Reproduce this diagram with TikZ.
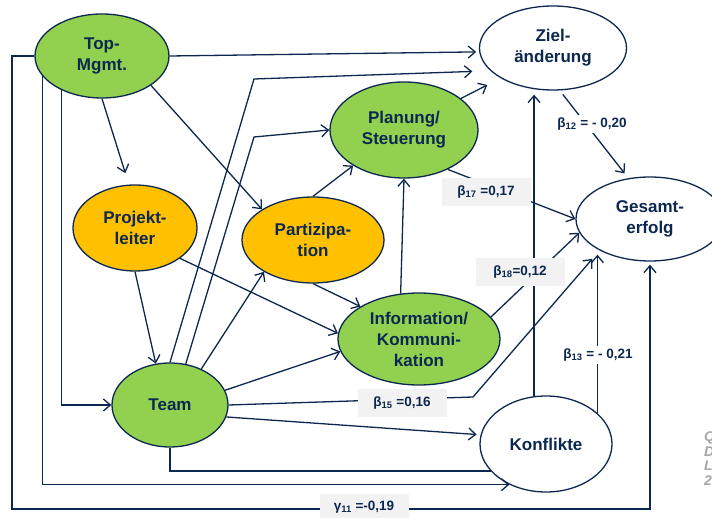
\documentclass[tikz,border=0pt]{standalone}
\usepackage{fontspec}
\setmainfont{Liberation Sans}
\usetikzlibrary{shapes.geometric,arrows.meta,calc}
\definecolor{navy}{HTML}{0D2850}
\definecolor{lgreen}{HTML}{92D050}
\definecolor{amber}{HTML}{FFC000}
\definecolor{boxgray}{HTML}{F2F2F2}
\begin{document}
\begin{tikzpicture}[x=1pt,y=-1pt,
  every node/.style={font=\fontsize{17}{21}\selectfont\bfseries, text=navy},
  ell/.style={ellipse, draw=navy, line width=1.3pt, inner sep=0pt, align=center},
  gnode/.style={ell, fill=lgreen},
  onode/.style={ell, fill=amber},
  wnode/.style={ell, fill=white},
  conn/.style={draw=navy, line width=1.3pt},
  arr/.style={conn, -{Straight Barb[length=7pt,width=12pt]}},
  coef/.style={font=\fontsize{13.5}{15}\selectfont\bfseries, inner sep=0pt, fill=boxgray, minimum width=89pt, minimum height=28pt},
  coefw/.style={font=\fontsize{13.5}{15}\selectfont\bfseries, inner sep=3pt, fill=white}
]
\fill[white] (0,0) rectangle (712,518);
\useasboundingbox (0,0) rectangle (712,518);

% nodes
\node[gnode, minimum width=134pt, minimum height=84pt] (TM) at (102,56) {Top-\\Mgmt.};
\node[wnode, minimum width=147pt, minimum height=84pt] (ZA) at (553,48) {Ziel-\\änderung};
\node[gnode, minimum width=148pt, minimum height=96pt] (PS) at (404,130) {Planung/\\Steuerung};
\node[wnode, minimum width=148pt, minimum height=84pt] (GE) at (650,219) {Gesamt-\\erfolg};
\node[onode, minimum width=124pt, minimum height=86pt] (PL) at (135,228) {Projekt-\\leiter};
\node[onode, minimum width=142pt, minimum height=86pt] (PA) at (313,240) {Partizipa-\\tion};
\node[gnode, minimum width=162pt, minimum height=92pt] (IK) at (419,339) {Information/\\Kommuni-\\kation};
\node[gnode, minimum width=116pt, minimum height=84pt] (TE) at (170,405) {Team};
\node[wnode, minimum width=132pt, minimum height=96pt] (KO) at (546,444) {Konflikte};

% bend points
\coordinate (c1) at (254,79);
\coordinate (c2) at (254,137);
\coordinate (c3) at (473,397);
\coordinate (g1) at (12,509);

% connectors from Top-Mgmt.
\draw[arr, shorten >=3pt] (TM.east) -- (ZA.183);
\draw[arr, shorten >=12pt] (TM.south) -- (PL.98);
\draw[arr] (TM.-31) -- (PA.149);
\draw[arr, shorten >=3pt] (TM.west) -| (g1) -| (GE.south);
\draw[arr] (TM.199) |- (KO.228);
\draw[arr] (TM.220) |- (TE.west);

% connectors from Team
\draw[arr, shorten >=18pt] (TE.north) -- (c1) -- (ZA.200);
\draw[arr] (TE.69) -- (c2) -- (PS.west);
\draw[arr] (TE.49) -- (PA.213);
\draw[arr] (TE.15) -- (IK.189);
\draw[arr, shorten >=11pt] (TE.east) -- (c3) -- (GE.212);
\draw[arr, shorten >=4pt] (TE.-12) -- (KO.172);
\draw[conn] (TE.south) |- (KO.206);

% other connectors
\draw[arr] (PL.south) -- (TE.109);
\draw[arr] (PL.-34) -- (IK.176);
\draw[arr] (PA.north) -- (PS.215);
\draw[arr] (PA.south) -- (IK.151);
\draw[arr, shorten >=15pt] (PS.29) -- (ZA.210);
\draw[arr] (PS.-42) -- (GE.west);
\draw[arr] (IK.112) -- (PS.south);
\draw[arr] (IK.17) -- (GE.191);
\draw[arr, shorten <=5pt, shorten >=6pt] (ZA.-81) -- (GE.118);
\draw[arr, shorten >=4pt] (KO.104) -- (KO.104 |- ZA.south);
\draw[arr, shorten >=6pt] (KO.31) -- (KO.31 |- GE.209);

% coefficient labels
\node[coef] (b17) at (486,192) {β\textsubscript{17} =0,17};
\node[coef] (b18) at (520,272) {β\textsubscript{18}=0,12};
\node[coef, minimum height=27pt] (b15) at (402,403) {β\textsubscript{15} =0,16};
\node[coef, minimum height=27pt] (g11) at (364,507) {γ\textsubscript{11} =-0,19};
\node[coefw] (b12) at (592,124) {β\textsubscript{12} = - 0,20};
\node[coefw] (b13) at (598,355) {β\textsubscript{13} = - 0,21};

% cut-off source note at right edge
\node[font=\fontsize{14}{14.5}\selectfont\bfseries\itshape, text=black!35, anchor=north west, align=left, inner sep=0pt] (src) at (704,432) {Q\\D\\L\\2};
\end{tikzpicture}
\end{document}
